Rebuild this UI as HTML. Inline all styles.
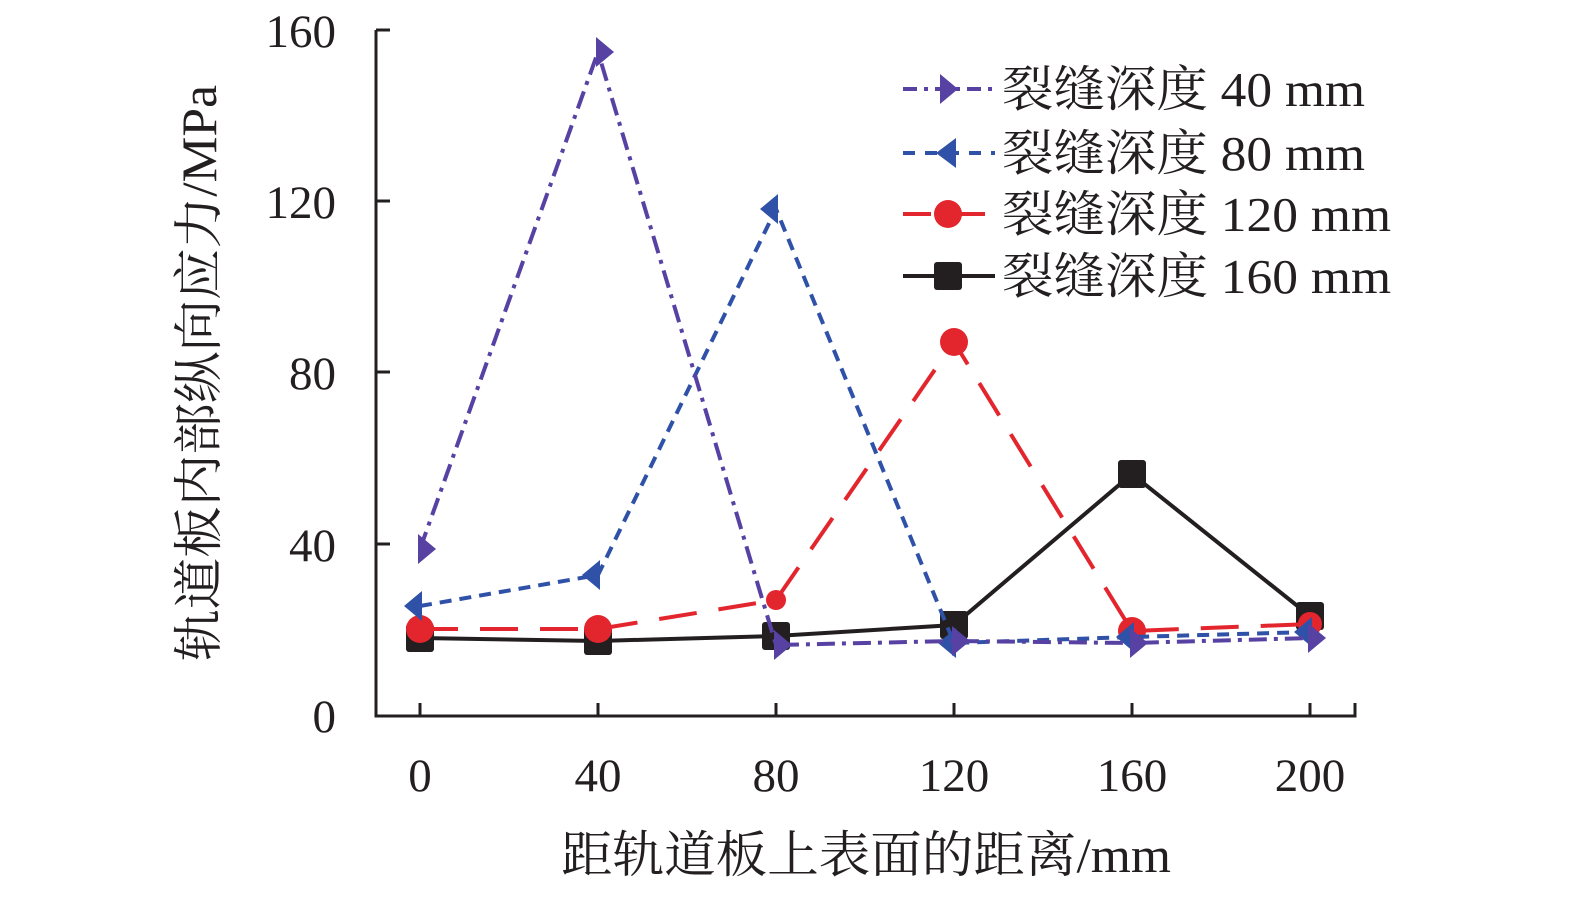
<!DOCTYPE html>
<html><head><meta charset="utf-8"><style>
html,body{margin:0;padding:0;background:#fff}
svg text{font-family:"Liberation Serif","Noto Serif CJK SC",serif;fill:#231f20}
</style></head><body>
<svg width="1575" height="897" viewBox="0 0 1575 897" xmlns="http://www.w3.org/2000/svg">
<g stroke="#231f20" stroke-width="3" fill="none">
<path d="M376,30 L376,716 L1355,716 L1355,703"/>
<path d="M376,30 L390,30 M376,201 L390,201 M376,372 L390,372 M376,544 L390,544"/>
<path d="M420,716 L420,703 M598,716 L598,703 M776,716 L776,703 M954,716 L954,703 M1132,716 L1132,703 M1310,716 L1310,703"/>
</g>
<g font-size="47" text-anchor="end">
<text x="336" y="47">160</text><text x="336" y="218">120</text><text x="336" y="389">80</text><text x="336" y="561">40</text><text x="336" y="732">0</text>
</g>
<g font-size="47" text-anchor="middle">
<text x="420" y="791">0</text><text x="598" y="791">40</text><text x="776" y="791">80</text><text x="954" y="791">120</text><text x="1132" y="791">160</text><text x="1310" y="791">200</text>
<text x="866" y="872" textLength="610" lengthAdjust="spacingAndGlyphs" font-size="50">距轨道板上表面的距离/mm</text>
<text transform="translate(216,373) rotate(-90)" textLength="576" lengthAdjust="spacingAndGlyphs" font-size="50">轨道板内部纵向应力/MPa</text>
</g>
<polyline points="420,638 598,641 776,636 954,625 1132,474 1310,616" stroke="#231f20" stroke-width="4" fill="none"/>
<g fill="#231f20">
<rect x="406" y="624" width="28" height="28" rx="3"/><rect x="584" y="627" width="28" height="28" rx="3"/><rect x="762" y="622" width="28" height="28" rx="3"/><rect x="940" y="611" width="28" height="28" rx="3"/><rect x="1118" y="460" width="28" height="28" rx="3"/><rect x="1296" y="602" width="28" height="28" rx="3"/>
</g>
<polyline points="420,629 598,629 776,600 954,342 1132,631 1310,624" stroke="#e3262d" stroke-width="4" fill="none" stroke-dasharray="38,22"/>
<g fill="#e3262d">
<circle cx="420" cy="629" r="14"/><circle cx="598" cy="629" r="14"/><circle cx="776" cy="600" r="10"/><circle cx="954" cy="342" r="14"/><circle cx="1132" cy="631" r="14"/><circle cx="1310" cy="624" r="12"/>
</g>
<polyline points="420,606 598,575 776,209 954,643 1132,637 1310,632" stroke="#2f52a8" stroke-width="4" fill="none" stroke-dasharray="12,8"/>
<g fill="#2f52a8">
<polygon points="404,606 422,591 422,621"/><polygon points="582,575 600,560 600,590"/><polygon points="760,209 778,194 778,224"/><polygon points="938,643 956,628 956,658"/><polygon points="1116,637 1134,622 1134,652"/><polygon points="1294,632 1312,617 1312,647"/>
</g>
<polyline points="420,549 598,52 776,645 954,641 1132,643 1310,638" stroke="#5742a3" stroke-width="4" fill="none" stroke-dasharray="18,7,4,7"/>
<g fill="#5742a3">
<polygon points="436,549 418,534 418,564"/><polygon points="614,52 596,37 596,67"/><polygon points="792,645 774,630 774,660"/><polygon points="970,641 952,626 952,656"/><polygon points="1148,643 1130,628 1130,658"/><polygon points="1326,638 1308,623 1308,653"/>
</g>
<path d="M903,89 L995,89" stroke="#5742a3" stroke-width="4" stroke-dasharray="14,7,4,7"/>
<polygon points="958,89 940,74 940,104" fill="#5742a3"/>
<path d="M903,153 L995,153" stroke="#2f52a8" stroke-width="4" stroke-dasharray="12,10"/>
<polygon points="936,153 956,138 956,168" fill="#2f52a8"/>
<path d="M903,214 L995,214" stroke="#e3262d" stroke-width="4" stroke-dasharray="28,26"/>
<circle cx="948" cy="214" r="14" fill="#e3262d"/>
<path d="M903,276 L995,276" stroke="#231f20" stroke-width="4"/>
<rect x="934" y="262" width="28" height="28" rx="3" fill="#231f20"/>
<g font-size="49">
<text x="1002" y="106" textLength="363" lengthAdjust="spacingAndGlyphs">裂缝深度 40 mm</text>
<text x="1002" y="170" textLength="363" lengthAdjust="spacingAndGlyphs">裂缝深度 80 mm</text>
<text x="1002" y="231" textLength="389" lengthAdjust="spacingAndGlyphs">裂缝深度 120 mm</text>
<text x="1002" y="293" textLength="389" lengthAdjust="spacingAndGlyphs">裂缝深度 160 mm</text>
</g>
</svg>
</body></html>
